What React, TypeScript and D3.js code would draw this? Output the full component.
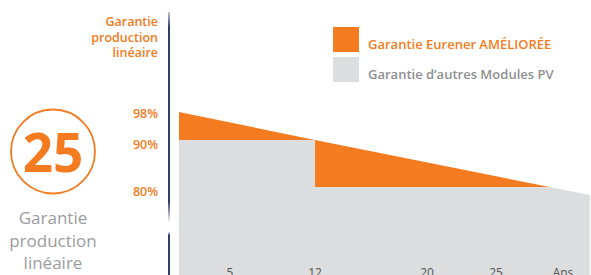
import { useEffect, useRef } from 'react';
import * as d3 from 'd3';

// year positions of the axis (non-linear in the original artwork)
const axisYears = [0, 5, 12, 20, 25, 30];
const tickYears = [5, 12, 20, 25];
const unitLabel = 'Ans';

// Eurener linear warranty (top edge of orange)
const eurenerYears = [0, 12, 29, 32];
const eurenerValues = [98, 90, 80, 78.3];

// other modules step warranty
const otherYears = [0, 12, 12, 29];
const otherValues = [90, 90, 80, 80];

const percentTicks = [98, 90, 80];
const titleLines = ['Garantie', 'production', 'linéaire'];
const badgeNumber = '25';
const legendLabels = ['Garantie Eurener AMÉLIORÉE', "Garantie d’autres Modules PV"];

const ORANGE = '#f47b20';
const GRAY = '#dcdddf';
const NAVY = '#2b3e69';

export default function App() {
  const svgRef = useRef<SVGSVGElement>(null);
  const width = 591;
  const height = 275;

  useEffect(() => {
    if (!svgRef.current) return;
    const svg = d3.select(svgRef.current);
    svg.selectAll('*').remove();

    const font = '"Open Sans", "Noto Sans", sans-serif';

    const x = d3.scaleLinear().domain(axisYears).range([179, 230, 315, 427, 496, 563]);
    const y = d3.scaleLinear().domain([98, 90, 80]).range([112, 140, 187]);

    // gradient for the vertical axis line
    const defs = svg.append('defs');
    const grad = defs.append('linearGradient')
      .attr('id', 'axisGrad')
      .attr('gradientUnits', 'userSpaceOnUse')
      .attr('x1', 0).attr('y1', 12).attr('x2', 0).attr('y2', height);
    const stops: [number, string, number][] = [
      [0, NAVY, 0.3], [0.06, NAVY, 1], [0.72, NAVY, 1], [0.80, NAVY, 0.0],
      [0.835, NAVY, 0.0], [0.85, NAVY, 1], [1, NAVY, 1],
    ];
    stops.forEach(([o, c, op]) => {
      grad.append('stop').attr('offset', o).attr('stop-color', c).attr('stop-opacity', op);
    });

    // gray area: other modules step + Eurener tail
    const tailStart = otherYears[otherYears.length - 1];
    const grayPts: [number, number][] = otherYears.map((yr, i) => [yr, otherValues[i]]);
    eurenerYears.forEach((yr, i) => {
      if (yr > tailStart) grayPts.push([yr, eurenerValues[i]]);
    });
    const lastYear = grayPts[grayPts.length - 1][0];
    const grayPoly = [
      ...grayPts.map(([yr, v]) => [x(yr), y(v)]),
      [x(lastYear), height],
      [x(0), height],
    ];
    svg.append('path')
      .attr('d', 'M' + grayPoly.map(p => p.join(',')).join('L') + 'Z')
      .attr('fill', GRAY);

    // orange area between Eurener line and the step
    const eurenerAt = d3.scaleLinear().domain(eurenerYears).range(eurenerValues);
    const band = otherYears.map((yr, i) => ({ yr, top: eurenerAt(yr), bottom: otherValues[i] }));
    const area = d3.area<{ yr: number; top: number; bottom: number }>()
      .x(d => x(d.yr))
      .y0(d => y(d.bottom))
      .y1(d => y(d.top));
    svg.append('path').attr('d', area(band) as string).attr('fill', ORANGE);

    // vertical axis
    svg.append('rect')
      .attr('x', 168).attr('y', 12).attr('width', 2).attr('height', height - 12)
      .attr('fill', 'url(#axisGrad)');

    // percent labels
    svg.append('g').selectAll('text').data(percentTicks).enter().append('text')
      .attr('x', 158).attr('y', d => y(d) + 9 - (d === 98 ? 3 : 0))
      .attr('text-anchor', 'end')
      .attr('font-family', font).attr('font-size', 12.5).attr('font-weight', 600)
      .attr('fill', ORANGE)
      .text(d => `${d}%`);

    // x tick labels
    svg.append('g').selectAll('text').data(tickYears).enter().append('text')
      .attr('x', d => x(d)).attr('y', 277)
      .attr('text-anchor', 'middle')
      .attr('font-family', font).attr('font-size', 12)
      .attr('fill', '#555')
      .text(d => String(d));
    svg.append('text')
      .attr('x', x(axisYears[axisYears.length - 1])).attr('y', 277)
      .attr('text-anchor', 'middle')
      .attr('font-family', font).attr('font-size', 12)
      .attr('fill', '#555')
      .text(unitLabel);

    // axis title
    svg.append('g').selectAll('text').data(titleLines).enter().append('text')
      .attr('x', 158).attr('y', (_, i) => 26 + i * 15.5)
      .attr('text-anchor', 'end')
      .attr('font-family', font).attr('font-size', 12.5).attr('font-weight', 600)
      .attr('fill', ORANGE)
      .text(d => d);

    // badge
    svg.append('circle')
      .attr('cx', 53).attr('cy', 151.5).attr('r', 42)
      .attr('fill', 'none').attr('stroke', ORANGE).attr('stroke-width', 1.8);
    svg.append('text')
      .attr('x', 53).attr('y', 172)
      .attr('text-anchor', 'middle')
      .attr('font-family', font).attr('font-size', 53).attr('font-weight', 700)
      .attr('fill', ORANGE)
      .text(badgeNumber);
    svg.append('g').selectAll('text').data(titleLines).enter().append('text')
      .attr('x', 53).attr('y', (_, i) => 224 + i * 22.5)
      .attr('text-anchor', 'middle')
      .attr('font-family', font).attr('font-size', 17).attr('font-weight', 400)
      .attr('fill', '#9b9c9e')
      .text(d => d);

    // legend
    const legendColors = [ORANGE, GRAY];
    const legendText = ['#f47b20', '#8e8f91'];
    const lg = svg.append('g').attr('transform', 'translate(333,27)');
    legendLabels.forEach((label, i) => {
      lg.append('rect')
        .attr('x', 0).attr('y', i * 30).attr('width', 26).attr('height', 25)
        .attr('fill', legendColors[i]);
      lg.append('text')
        .attr('x', 35).attr('y', i * 30 + 22)
        .attr('font-family', font).attr('font-size', 13).attr('font-weight', 600)
        .attr('fill', legendText[i])
        .text(label);
    });
  }, []);

  return (
    <div style={{ position: 'absolute', left: 0, top: 0 }}>
      <svg ref={svgRef} width={width} height={height} style={{ display: 'block' }} />
    </div>
  );
}
